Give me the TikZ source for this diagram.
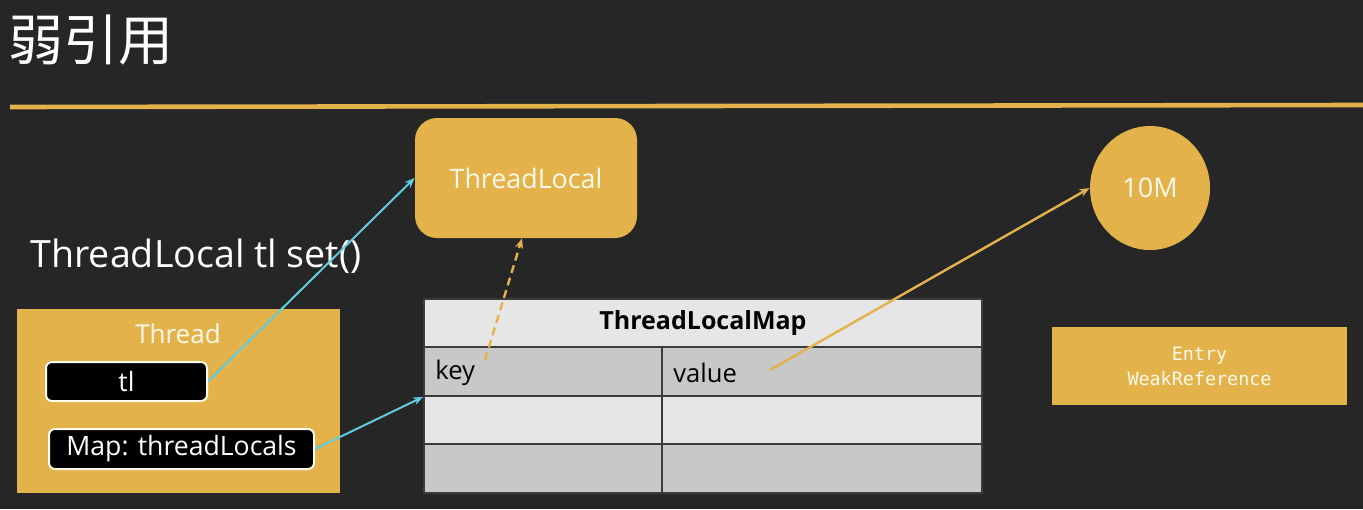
\documentclass[tikz,border=0pt]{standalone}
\usepackage{fontspec}
\setmainfont{Open Sans}
\newfontfamily\cjk{Noto Sans CJK SC}
\newfontfamily\monof{DejaVu Sans Mono}
\usetikzlibrary{arrows.meta,shapes.geometric}
\definecolor{bgc}{RGB}{38,38,38}
\definecolor{gold}{RGB}{227,178,75}
\definecolor{cyanl}{RGB}{95,205,225}
\definecolor{lightcell}{RGB}{230,230,230}
\definecolor{graycell}{RGB}{200,200,200}
\definecolor{gridc}{RGB}{60,60,60}
\definecolor{softwhite}{RGB}{255,250,235}
\tikzset{
  goldbox/.style={fill=gold, draw=none, inner sep=0pt, text=softwhite},
  blackbox/.style={fill=black, draw=softwhite, line width=1pt, rounded corners=3pt, inner sep=0pt, text=white, font=\fontsize{13.3}{15}\selectfont},
  cellbox/.style={draw=gridc, line width=0.9pt, inner sep=0pt},
  cyanarrow/.style={draw=cyanl, line width=1pt, -{Stealth[length=5pt,width=4pt]}},
  goldarrow/.style={draw=gold, line width=1.2pt, -{Stealth[length=5pt,width=4pt]}},
  celltext/.style={font=\fontsize{12.8}{14}\selectfont, text=black, anchor=west, inner sep=0pt}
}
\begin{document}
\begin{tikzpicture}[x=0.5pt,y=-0.5pt]
\fill[bgc] (0,0) rectangle (1363,509);
\useasboundingbox (0,0) rectangle (1363,509);
% title
\node[text=white, font=\cjk\fontsize{27.5}{30}\selectfont, inner sep=0pt] (title) at (91,40) {弱引用};
% divider
\draw[gold, line width=2.3pt] (10,107) -- (1363,105);
% ThreadLocal
\node[goldbox, rounded corners=11pt, minimum width=111pt, minimum height=60pt, font=\fontsize{13.4}{16}\selectfont] (threadlocal) at (526,178) {ThreadLocal};
% caption
\node[text=white, font=\fontsize{18.8}{22}\selectfont, inner sep=0pt] (caption) at (196,256) {ThreadLocal tl set()};
% Thread
\node[goldbox, minimum width=161.5pt, minimum height=92pt] (thread) at (178.5,401) {};
\node[text=softwhite, font=\fontsize{13}{16}\selectfont, inner sep=0pt] (threadlabel) at (178,334) {Thread};
\node[blackbox, minimum width=80.5pt, minimum height=19.5pt] (tl) at (126.5,381.5) {tl};
\node[blackbox, minimum width=132.5pt, minimum height=20pt] (map) at (181.5,449) {Map: threadLocals};
% ThreadLocalMap table
\node[cellbox, fill=lightcell, minimum width=279pt, minimum height=24pt, font=\bfseries\fontsize{12.5}{14}\selectfont] (head) at (703,323) {ThreadLocalMap};
\node[cellbox, fill=graycell, minimum width=119pt, minimum height=24.5pt] (r1l) at (543,371.5) {};
\node[cellbox, fill=graycell, minimum width=160pt, minimum height=24.5pt] (r1r) at (822,371.5) {};
\node[cellbox, fill=lightcell, minimum width=119pt, minimum height=24pt] (r2l) at (543,420) {};
\node[cellbox, fill=lightcell, minimum width=160pt, minimum height=24pt] (r2r) at (822,420) {};
\node[cellbox, fill=graycell, minimum width=119pt, minimum height=24.5pt] (r3l) at (543,468.5) {};
\node[cellbox, fill=graycell, minimum width=160pt, minimum height=24.5pt] (r3r) at (822,468.5) {};
\node[celltext] (key) at (435,373) {key};
\node[celltext] (value) at (673,373) {value};
% 10M
\node[ellipse, fill=gold, inner sep=0pt, minimum width=60pt, minimum height=62pt, text=softwhite, font=\fontsize{13.5}{16}\selectfont] (tenm) at (1150,188) {10M};
% Entry
\node[goldbox, minimum width=147.5pt, minimum height=39pt, align=center, font=\monof\fontsize{9.2}{12.5}\selectfont] (entry) at (1199.5,366) {Entry\\WeakReference};
% connectors
\coordinate (keyend) at (485,360);
\coordinate (valend) at (770,370);
\draw[cyanarrow] (tl.east) -- (threadlocal.west);
\draw[cyanarrow] (map.east) -- (r1l.south west);
\draw[goldarrow, dash pattern=on 4pt off 2.5pt] (keyend) -- ([xshift=-2pt]threadlocal.south);
\draw[goldarrow] (valend) -- (tenm.west);
\end{tikzpicture}
\end{document}
